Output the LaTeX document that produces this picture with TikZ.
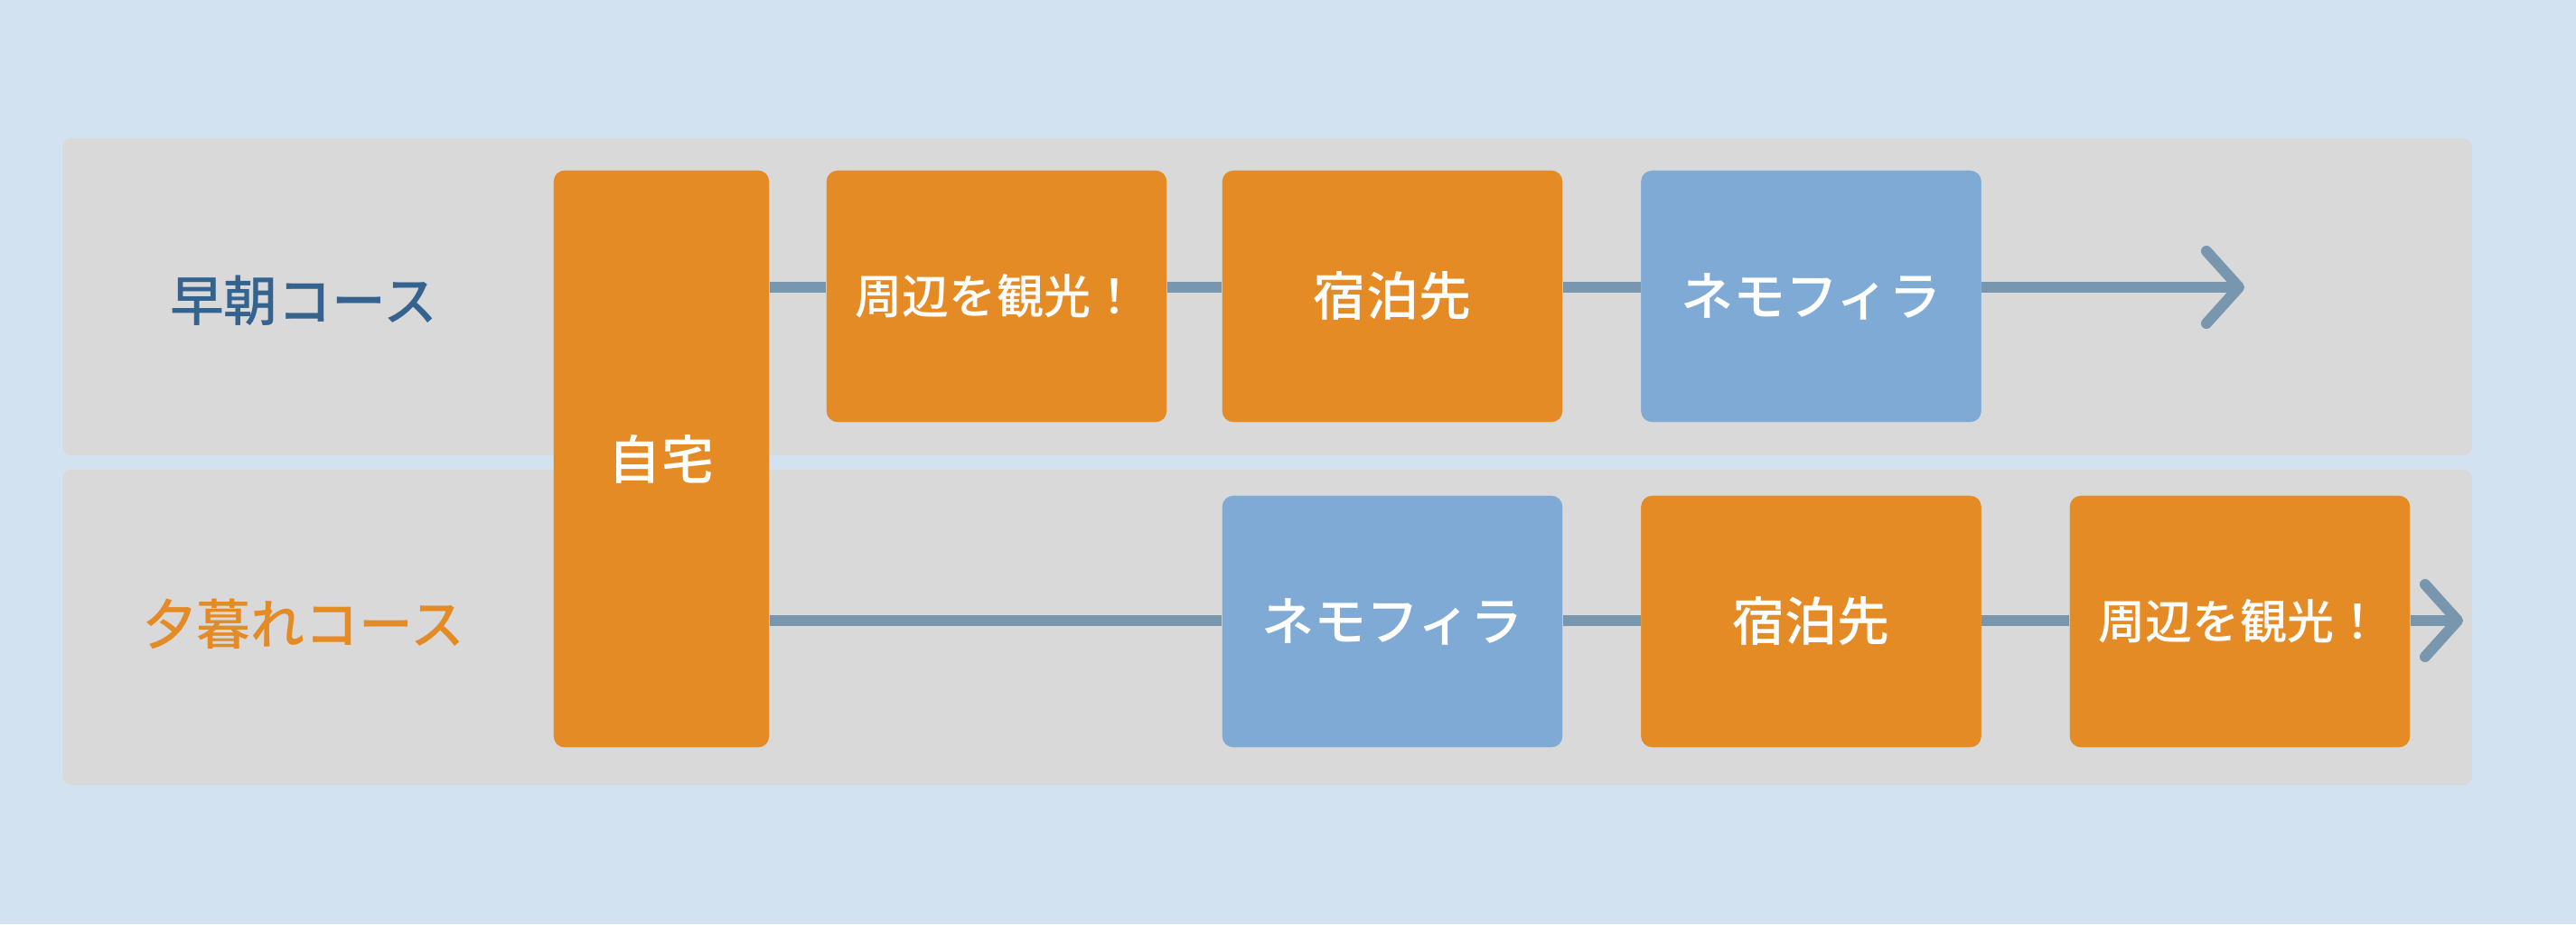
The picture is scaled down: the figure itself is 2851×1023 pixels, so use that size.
\documentclass[tikz,border=0pt]{standalone}
\usepackage{fontspec}
\setmainfont{Noto Sans CJK JP}[UprightFont=* Medium]
\usetikzlibrary{arrows.meta,calc}
\definecolor{bgblue}{HTML}{D3E2F0}
\definecolor{panelgray}{HTML}{D9D9D9}
\definecolor{boxorange}{HTML}{E48B26}
\definecolor{boxblue}{HTML}{7FAAD6}
\definecolor{linegray}{HTML}{7896AE}
\definecolor{labelblue}{HTML}{35638F}
\tikzset{
  panel/.style={fill=panelgray, draw=none, rounded corners=0.1cm},
  stepbox/.style={rectangle, rounded corners=0.12cm, draw=none, text=white,
    minimum width=3.76cm, minimum height=2.78cm, inner sep=0pt,
    font=\fontsize{16.5pt}{18pt}\selectfont},
  orangebox/.style={stepbox, fill=boxorange},
  bluebox/.style={stepbox, fill=boxblue},
  smalltext/.style={font=\fontsize{14.8pt}{16pt}\selectfont},
  homebox/.style={rectangle, rounded corners=0.12cm, draw=none, fill=boxorange, text=white,
    minimum width=2.38cm, minimum height=6.38cm, inner sep=0pt,
    font=\fontsize{16.5pt}{18pt}\selectfont},
  courselabel/.style={font=\fontsize{17pt}{19pt}\selectfont, inner sep=0pt},
  conn/.style={draw=linegray, line width=0.12cm},
  connarrow/.style={conn, -{Straight Barb[length=0.36cm, width=0.8cm, round]}}
}
\begin{document}
\begin{tikzpicture}[x=0.01cm, y=-0.01cm]
\useasboundingbox (0,0) rectangle (2851,1023);
\fill[bgblue] (0,0) rectangle (2851,1023);
% panels
\fill[panel] (69,153) rectangle (2736,504);
\fill[panel] (69,520) rectangle (2736,869);
% course labels
\node[courselabel, text=labelblue] (morning) at (336,333) {早朝コース};
\node[courselabel, text=boxorange] (evening) at (336,691) {夕暮れコース};
% row coordinates
\coordinate (r1) at (0,318);
\coordinate (r2) at (0,687);
\coordinate (tip1) at (2484,318);
\coordinate (tip2) at (2726,687);
% boxes (shapes)
\node[homebox] (home) at (732,508) {};
\node[orangebox] (a) at (1103,328) {};
\node[orangebox] (b) at (1541,328) {};
\node[bluebox] (c) at (2004.5,328) {};
\node[bluebox] (d) at (1541,688) {};
\node[orangebox] (e) at (2004.5,688) {};
\node[orangebox] (f) at (2479,688) {};
% connectors
\draw[conn] (home.east |- r1) -- (a.west |- r1);
\draw[conn] (a.east |- r1) -- (b.west |- r1);
\draw[conn] (b.east |- r1) -- (c.west |- r1);
\draw[connarrow] (c.east |- r1) -- (tip1);
\draw[conn] (home.east |- r2) -- (d.west |- r2);
\draw[conn] (d.east |- r2) -- (e.west |- r2);
\draw[conn] (e.east |- r2) -- (f.west |- r2);
\draw[connarrow] (f.east |- r2) -- (tip2);
% box texts on top
\node[homebox] at (home) {自宅};
\node[orangebox, smalltext] at (a) {周辺を観光！};
\node[orangebox] at (b) {宿泊先};
\node[bluebox] at (c) {ネモフィラ};
\node[bluebox] at (d) {ネモフィラ};
\node[orangebox] at (e) {宿泊先};
\node[orangebox, smalltext] at (f) {周辺を観光！};
\end{tikzpicture}
\end{document}
